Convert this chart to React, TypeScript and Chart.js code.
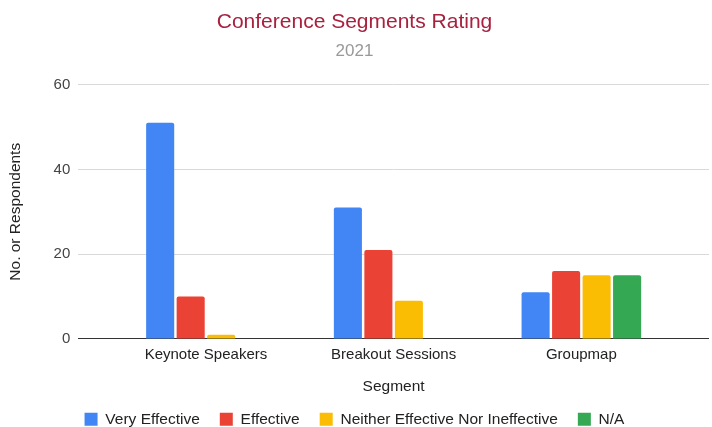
import React, { useEffect, useRef } from "react";
import { Chart, registerables } from "chart.js";

Chart.register(...registerables);

const categories = ["Keynote Speakers", "Breakout Sessions", "Groupmap"];
const seriesNames = ["Very Effective", "Effective", "Neither Effective Nor Ineffective", "N/A"];
const veryEffective = [51, 31, 11];
const effective = [10, 21, 16];
const neither = [1, 9, 15];
const notApplicable = [0, 0, 15];
const yTicks = [0, 20, 40, 60];
const seriesColors = ["#4285F4", "#EA4335", "#FBBC04", "#34A853"];

const FONT = '"Liberation Sans", Arial, sans-serif';

export default function App() {
  const ref = useRef<HTMLCanvasElement | null>(null);

  useEffect(() => {
    if (!ref.current) return;
    const seriesValues = [veryEffective, effective, neither, notApplicable];
    const chart = new Chart(ref.current, {
      type: "bar",
      data: {
        datasets: seriesValues.map((vals, si) => ({
          label: seriesNames[si],
          data: vals.map((v, i) => ({ x: i, y: v })),
          backgroundColor: seriesColors[si],
          borderRadius: 2,
          borderSkipped: "bottom" as const,
          categoryPercentage: 0.65,
          barPercentage: 0.92,
        })),
      },
      options: {
        animation: false,
        responsive: true,
        maintainAspectRatio: false,
        layout: { padding: { left: 0, right: 3, top: 0, bottom: -10 } },
        plugins: {
          title: {
            display: true,
            text: "Conference Segments Rating",
            color: "#a8213f",
            font: { family: FONT, size: 21, weight: "normal" },
            padding: { top: 10, bottom: 6 },
          },
          subtitle: {
            display: true,
            text: "2021",
            color: "#999999",
            font: { family: FONT, size: 17, weight: "normal" },
            padding: { top: 0, bottom: 23 },
          },
          legend: {
            position: "bottom",
            labels: {
              boxWidth: 13,
              boxHeight: 13,
              padding: 20,
              color: "#222222",
              font: { family: FONT, size: 15.5 },
            },
          },
          tooltip: { enabled: false },
        },
        scales: {
          x: {
            type: "linear",
            offset: false,
            bounds: "data",
            min: -0.68,
            max: 2.68,
            afterBuildTicks: (scale: any) => {
              scale.ticks = categories.map((_, i) => ({ value: i }));
            },
            grid: { display: false, drawTicks: false },
            border: { display: false },
            ticks: {
              autoSkip: false,
              maxRotation: 0,
              padding: 7,
              color: "#222222",
              font: { family: FONT, size: 15 },
              callback: (v: any) => categories[Math.round(v)] ?? null,
            },
            title: {
              display: true,
              text: "Segment",
              color: "#222222",
              font: { family: FONT, size: 15.5 },
              padding: { top: 7, bottom: -5 },
            },
          },
          y: {
            min: yTicks[0],
            max: yTicks[yTicks.length - 1],
            afterBuildTicks: (scale: any) => {
              scale.ticks = yTicks.map((v) => ({ value: v }));
            },
            grid: {
              drawTicks: false,
              color: (ctx: any) => (ctx.tick && ctx.tick.value === 0 ? "#333333" : "#d9d9d9"),
              lineWidth: 1,
            },
            border: { display: false },
            ticks: {
              padding: 8,
              color: "#444444",
              font: { family: FONT, size: 15 },
            },
            title: {
              display: true,
              text: "No. or Respondents",
              color: "#222222",
              font: { family: FONT, size: 15.5 },
              padding: { top: 6, bottom: 21 },
            },
          },
        },
      },
    });
    return () => chart.destroy();
  }, []);

  return (
    <div style={{ position: "fixed", left: 0, top: 0, width: 712, height: 427, background: "#fff" }}>
      <canvas ref={ref} />
    </div>
  );
}
